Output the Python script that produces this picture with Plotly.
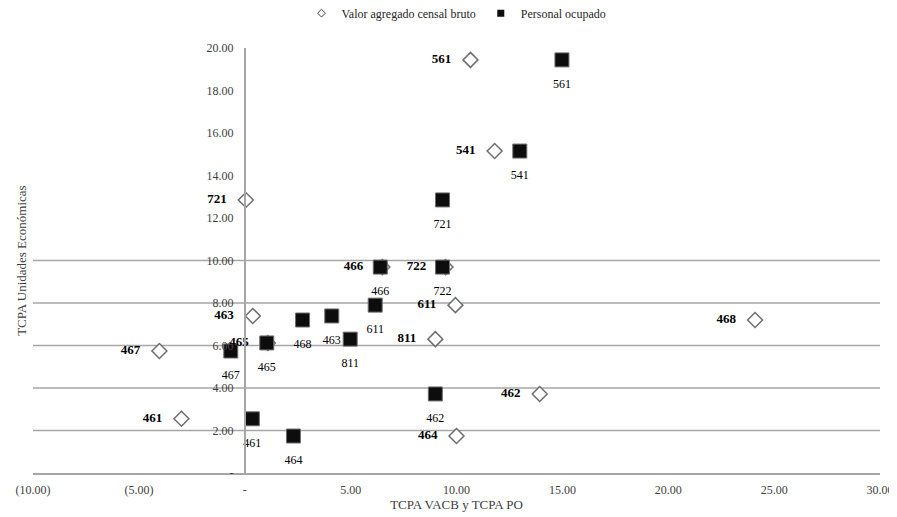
import plotly.graph_objects as go

codes = ["561", "541", "721", "466", "722", "611", "463", "468", "811", "465", "467", "462", "461", "464"]
tcpa_ue = [19.44, 15.15, 12.85, 9.69, 9.69, 7.90, 7.39, 7.20, 6.30, 6.12, 5.74, 3.72, 2.55, 1.74]
tcpa_vacb = [10.66, 11.80, 0.05, 6.50, 9.48, 9.95, 0.38, 24.10, 9.00, 1.09, -4.03, 13.93, -2.99, 10.00]
tcpa_po = [14.98, 12.99, 9.34, 6.40, 9.34, 6.16, 4.11, 2.73, 4.98, 1.04, -0.66, 9.00, 0.36, 2.30]

x_ticks = [-10, -5, 0, 5, 10, 15, 20, 25, 30]
x_ticktext = ["(10.00)", "(5.00)", "-", "5.00", "10.00", "15.00", "20.00", "25.00", "30.00"]
y_ticks = [0, 2, 4, 6, 8, 10, 12, 14, 16, 18, 20]
y_ticktext = ["-", "2.00", "4.00", "6.00", "8.00", "10.00", "12.00", "14.00", "16.00", "18.00", "20.00"]
grid_levels = [2, 4, 6, 8, 10]

series_names = ["Valor agregado censal bruto", "Personal ocupado"]

FONT = "Liberation Serif"
GRID = "#a6a6a6"
TXT = "#404040"

fig = go.Figure()

# Diamonds: Valor agregado censal bruto
fig.add_trace(go.Scatter(
    x=tcpa_vacb, y=tcpa_ue, mode="markers", showlegend=False,
    marker=dict(symbol="diamond", size=11.5, color="white",
                line=dict(color="#6e6e6e", width=1.5)),
    hoverinfo="skip"))
# Squares: Personal ocupado
fig.add_trace(go.Scatter(
    x=tcpa_po, y=tcpa_ue, mode="markers", showlegend=False,
    marker=dict(symbol="square", size=14, color="#0d0d0d",
                line=dict(color="#6e6e6e", width=1)),
    hoverinfo="skip"))

# Labels for diamonds (bold, left)
fig.add_trace(go.Scatter(
    x=tcpa_vacb, y=tcpa_ue, mode="markers+text", showlegend=False,
    text=["<b>%s</b>" % c for c in codes], textposition="middle left",
    textfont=dict(family=FONT, size=13, color="#000000"),
    marker=dict(size=29, opacity=0), hoverinfo="skip"))
# Labels for squares (regular, below)
fig.add_trace(go.Scatter(
    x=tcpa_po, y=tcpa_ue, mode="markers+text", showlegend=False,
    text=codes, textposition="bottom center",
    textfont=dict(family=FONT, size=12, color="#000000"),
    marker=dict(size=29, opacity=0), hoverinfo="skip"))

# Legend entries
fig.add_trace(go.Scatter(
    x=[None], y=[None], mode="markers", name=series_names[0],
    marker=dict(symbol="diamond", size=6, color="white",
                line=dict(color="#404040", width=1))))
fig.add_trace(go.Scatter(
    x=[None], y=[None], mode="markers", name=series_names[1],
    marker=dict(symbol="square", size=7, color="#0d0d0d",
                line=dict(color="#0d0d0d", width=0))))

shapes = []
for g in grid_levels:
    shapes.append(dict(type="line", xref="x", yref="y", x0=x_ticks[0], x1=x_ticks[-1],
                       y0=g, y1=g, line=dict(color=GRID, width=1.5), layer="below"))

fig.update_layout(
    width=889, height=509,
    margin=dict(l=25, r=17, t=40, b=44, autoexpand=False),
    paper_bgcolor="white", plot_bgcolor="white",
    font=dict(family=FONT, size=12, color=TXT),
    shapes=shapes,
    showlegend=True,
    legend=dict(orientation="h", x=0.5, xanchor="center", y=1.082, yanchor="middle",
                font=dict(family=FONT, size=12, color="#262626"),
                itemwidth=30, bgcolor="rgba(0,0,0,0)", tracegroupgap=0),
    xaxis=dict(range=[-10, 30], tickvals=x_ticks, ticktext=x_ticktext,
               showgrid=False, zeroline=False, showline=True, linecolor=GRID, linewidth=1.5,
               ticks="", ticklabelstandoff=5, automargin=False,
               tickfont=dict(family=FONT, size=12, color=TXT),
               title=dict(text="TCPA VACB y TCPA PO", standoff=2,
                          font=dict(family=FONT, size=13, color=TXT))),
    yaxis=dict(range=[0, 20], tickvals=y_ticks, ticktext=y_ticktext,
               anchor="free", position=0.25, automargin=False,
               showgrid=False, zeroline=False, showline=True, linecolor=GRID, linewidth=1.5,
               ticks="", ticklabelstandoff=8,
               tickfont=dict(family=FONT, size=12, color=TXT)),
    annotations=[dict(text="TCPA Unidades Económicas", xref="paper", yref="paper",
                      x=-0.025, y=0.5, textangle=-90, showarrow=False,
                      font=dict(family=FONT, size=13, color=TXT))],
)

fig.write_html("out.html")
